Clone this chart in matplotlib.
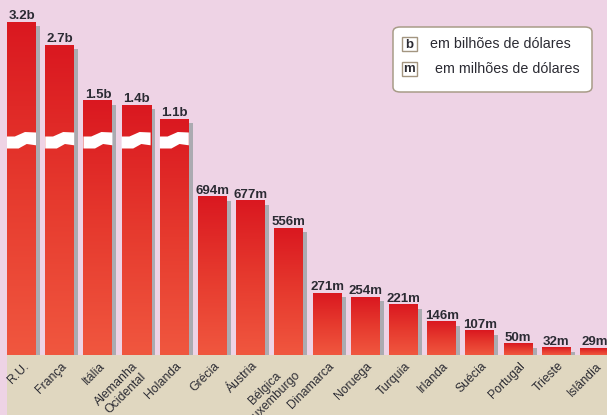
import numpy as np
import matplotlib
matplotlib.use('Agg')
import matplotlib.pyplot as plt
from matplotlib import font_manager as fm
from matplotlib.colors import LinearSegmentedColormap
from matplotlib.patches import Rectangle, Polygon, FancyBboxPatch

# Ajuda por país (milhões de dólares)
paises = ['R.U.', 'França', 'Itália', 'Alemanha\nOcidental', 'Holanda', 'Grécia',
          'Áustria', 'Bélgica\nLuxemburgo', 'Dinamarca', 'Noruega', 'Turquia',
          'Irlanda', 'Suécia', 'Portugal', 'Trieste', 'Islândia']
valores = [3200, 2700, 1500, 1400, 1100, 694, 677, 556, 271, 254, 221, 146, 107, 50, 32, 29]

legenda_letras = ['b', 'm']
legenda_textos = ['em bilhões de dólares', 'em milhões de dólares']

W, H = 607, 415
ROSA = '#EED3E5'
BEGE = '#E0D7C0'
SOMBRA = '#ABABB1'
TEXTO = '#2B2B33'
plt.rcParams['font.family'] = ['Liberation Sans', 'DejaVu Sans']
negrito = fm.FontProperties(family=['Liberation Sans', 'DejaVu Sans'], weight='bold')

PX_X = 38.2          # px per bar slot
PX_Y = 0.228         # px per million
CORTE = 1000         # bars above this are drawn on a compressed scale


def altura(v):
    # broken axis: above the cut the scale is squeezed
    if v < CORTE:
        return v
    return 812 + 0.2024 * v


def rotulo(v):
    return f'{v / 1000:.1f}b' if v >= 1000 else f'{v}m'


fig = plt.figure(figsize=(W / 100, H / 100), dpi=100, facecolor=ROSA)

# faixa bege dos nomes
fig.add_artist(Rectangle((7 / W, 0), 1, 60 / H, transform=fig.transFigure,
                         facecolor=BEGE, edgecolor='none', zorder=-5))

ax = fig.add_axes([0, 60 / H, 1, 355 / H])
ax.set_facecolor('none')
ax.axis('off')

grad = LinearSegmentedColormap.from_list('barra', ['#F0573F', '#E63A2E', '#DA1820'])
gy = np.linspace(0, 1, 256).reshape(-1, 1)
larg = 29 / PX_X
dx_s, dy_s = 4 / PX_X, 4 / PX_Y

for i, (nome, v) in enumerate(zip(paises, valores)):
    h = altura(v)
    x0 = i - larg / 2
    # sombra cinza
    ax.add_patch(Rectangle((x0 + dx_s, 0), larg, h - dy_s, facecolor=SOMBRA,
                           edgecolor='none', zorder=1))
    ax.imshow(gy, extent=[x0, x0 + larg, 0, h], origin='lower', aspect='auto',
              cmap=grad, zorder=2, interpolation='bilinear')
    if v >= CORTE:
        # quebra em zigue-zague
        pts_u = [0, 0.27, 0.62, 1, 1, 0.68, 0.4, 0]
        pts_h = [218.5, 218.5, 223, 222.5, 209.7, 211, 206.5, 206.5]
        pts = [(x0 + u * larg, hp / PX_Y) for u, hp in zip(pts_u, pts_h)]
        ax.add_patch(Polygon(pts, closed=True, facecolor='white',
                             edgecolor='none', zorder=3))
    ax.annotate(rotulo(v), (i, h), xytext=(0, 3), textcoords='offset pixels',
                ha='center', va='baseline', fontproperties=negrito, fontsize=9.5,
                color=TEXTO, zorder=4)
    desloc = (-4, -5) if '\n' in nome else (1, -5)
    ax.annotate(nome, (i, 0), xytext=desloc, textcoords='offset pixels',
                ha='right', va='top', rotation=45, rotation_mode='anchor',
                multialignment='center', fontsize=8.8, color=TEXTO,
                linespacing=1.1, annotation_clip=False)

ax.set_xlim(-21.5 / PX_X, (W - 21.5) / PX_X)
ax.set_ylim(0, 355 / PX_Y)

# caixa de legenda
def fx(px):
    return px / W


def fy(py):
    return 1 - py / H


fig.add_artist(FancyBboxPatch((fx(393), fy(92)), fx(592) - fx(393), fy(27) - fy(92),
                              boxstyle='round,pad=0,rounding_size=0.012',
                              transform=fig.transFigure, facecolor='white',
                              edgecolor='#A89C88', linewidth=1.1))
for k, (letra, txt) in enumerate(zip(legenda_letras, legenda_textos)):
    ytop = 37 + k * 25
    fig.add_artist(Rectangle((fx(402), fy(ytop + 14)), fx(417) - fx(402), fy(ytop) - fy(ytop + 14),
                             transform=fig.transFigure, facecolor='white',
                             edgecolor='#A39580', linewidth=1.0))
    fig.text(fx(409.5), fy(ytop + 10.5), letra, ha='center', va='baseline',
             fontproperties=negrito, fontsize=9.5, color=TEXTO)
    fig.text(fx(430 + 5 * k), fy(ytop + 7), txt, ha='left', va='center',
             fontsize=10.3, color=TEXTO)

fig.savefig('out.png', dpi=100, facecolor=ROSA)
